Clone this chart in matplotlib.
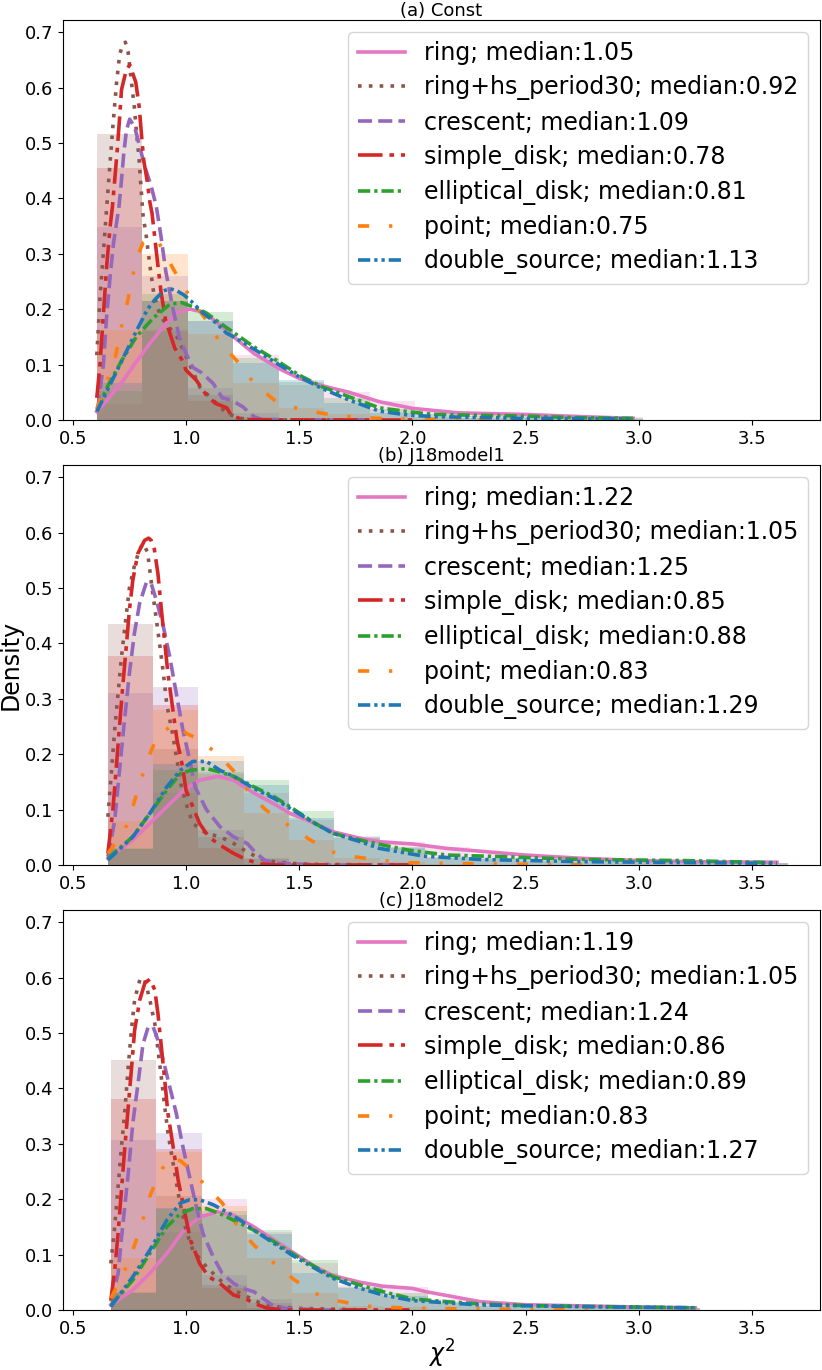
import numpy as np
import matplotlib
matplotlib.use("Agg")
import matplotlib.pyplot as plt

# legend order / draw order
models = ["ring", "ring+hs_period30", "crescent", "simple_disk",
          "elliptical_disk", "point", "double_source"]
colors = ["#e377c2", "#8c564b", "#9467bd", "#d62728", "#2ca02c", "#ff7f0e", "#1f77b4"]
styles = ["-", (0, (1.0, 2.0)), (0, (3.9, 1.7)), (0, (6.8, 1.9, 1.3, 1.9)),
          (0, (3.4, 1.1, 0.9, 1.1)), (0, (3.1, 5.5, 0.9, 5.5)), (0, (3.4, 1.1, 0.9, 1.1, 0.9, 1.1))]

titles = ["(a) Const", "(b) J18model1", "(c) J18model2"]
medians_a = [1.05, 0.92, 1.09, 0.78, 0.81, 0.75, 1.13]
medians_b = [1.22, 1.05, 1.25, 0.85, 0.88, 0.83, 1.29]
medians_c = [1.19, 1.05, 1.24, 0.86, 0.89, 0.83, 1.27]

# histogram bins: first edge, bin width
bins_a = (0.606, 0.201)
bins_b = (0.654, 0.2003)
bins_c = (0.668, 0.2003)

# ---- panel (a) Const: histogram heights (density) ----
hist_a_ring = [0.029, 0.165, 0.178, 0.118, 0.064, 0.05, 0.035, 0.015, 0.01, 0.01, 0.005, 0.005]
hist_a_hs = [0.517, 0.16, 0.045, 0.006, 0, 0, 0, 0, 0, 0, 0, 0]
hist_a_cres = [0.349, 0.26, 0.058, 0.012, 0, 0, 0, 0, 0, 0, 0, 0]
hist_a_disk = [0.455, 0.215, 0.035, 0.002, 0, 0, 0, 0, 0, 0, 0, 0]
hist_a_ell = [0.053, 0.227, 0.195, 0.112, 0.068, 0.04, 0.02, 0.01, 0.007, 0.005, 0.003, 0.003]
hist_a_point = [0.162, 0.30, 0.155, 0.066, 0.022, 0.01, 0.004, 0.001, 0, 0, 0, 0]
hist_a_dbl = [0.067, 0.215, 0.178, 0.102, 0.073, 0.03, 0.012, 0.006, 0.003, 0.003, 0.002, 0.002]

# ---- panel (a) Const: density curves (x, y) ----
kde_a_ring = [(0.606, 0.015), (0.66, 0.04), (0.72, 0.07), (0.78, 0.105), (0.84, 0.138),
              (0.899, 0.168), (0.958, 0.193), (1.016, 0.2), (1.075, 0.195), (1.134, 0.177),
              (1.193, 0.156), (1.3, 0.12), (1.41, 0.093), (1.5, 0.075), (1.6, 0.062),
              (1.72, 0.05), (1.854, 0.033), (2.0, 0.021), (2.2, 0.013), (2.5, 0.01),
              (2.75, 0.006), (2.975, 0.003)]
kde_a_hs = [(0.606, 0.117), (0.62, 0.22), (0.64, 0.33), (0.66, 0.44), (0.678, 0.535),
            (0.693, 0.608), (0.707, 0.66), (0.72, 0.677), (0.732, 0.682), (0.744, 0.665),
            (0.759, 0.61), (0.773, 0.56), (0.781, 0.52), (0.791, 0.48), (0.803, 0.41),
            (0.81, 0.37), (0.825, 0.33), (0.84, 0.28), (0.857, 0.23), (0.876, 0.2),
            (0.9, 0.18), (0.93, 0.165), (0.96, 0.15), (0.995, 0.12), (1.06, 0.06),
            (1.12, 0.036), (1.18, 0.012), (1.24, 0.003), (1.3, 0.0), (1.8, 0.0)]
kde_a_cres = [(0.61, 0.02), (0.635, 0.1), (0.65, 0.19), (0.665, 0.26), (0.68, 0.32),
              (0.704, 0.385), (0.715, 0.433), (0.725, 0.481), (0.737, 0.523), (0.751, 0.543),
              (0.773, 0.529), (0.796, 0.493), (0.818, 0.457), (0.847, 0.421), (0.869, 0.385),
              (0.89, 0.33), (0.91, 0.27), (0.94, 0.205), (0.97, 0.15), (1.0, 0.12),
              (1.03, 0.095), (1.07, 0.085), (1.12, 0.066), (1.16, 0.04), (1.2, 0.036),
              (1.25, 0.024), (1.3, 0.006), (1.34, 0.0), (1.8, 0.0)]
kde_a_disk = [(0.606, 0.04), (0.62, 0.1), (0.635, 0.19), (0.65, 0.28), (0.665, 0.35),
              (0.675, 0.385), (0.685, 0.433), (0.695, 0.481), (0.707, 0.547), (0.715, 0.596),
              (0.735, 0.63), (0.751, 0.641), (0.778, 0.61), (0.793, 0.566), (0.803, 0.517),
              (0.813, 0.469), (0.828, 0.433), (0.84, 0.394), (0.85, 0.373), (0.87, 0.3),
              (0.89, 0.23), (0.91, 0.18), (0.95, 0.13), (0.98, 0.11), (1.0, 0.09),
              (1.045, 0.072), (1.09, 0.045), (1.13, 0.03), (1.18, 0.022), (1.2, 0.008),
              (1.25, 0.001), (1.4, 0.0), (2.0, 0.0)]
kde_a_ell = [(0.606, 0.018), (0.66, 0.066), (0.72, 0.11), (0.78, 0.15), (0.855, 0.184),
             (0.929, 0.209), (0.98, 0.212), (1.046, 0.202), (1.09, 0.193), (1.15, 0.175),
             (1.21, 0.158), (1.3, 0.132), (1.41, 0.105), (1.5, 0.081), (1.6, 0.06),
             (1.72, 0.042), (1.854, 0.022), (2.0, 0.014), (2.1, 0.01), (2.5, 0.007),
             (2.75, 0.004), (2.975, 0.003)]
kde_a_point = [(0.606, 0.02), (0.66, 0.08), (0.69, 0.117), (0.71, 0.16), (0.74, 0.21),
               (0.76, 0.25), (0.78, 0.29), (0.81, 0.32), (0.85, 0.33), (0.88, 0.32),
               (0.92, 0.29), (0.975, 0.25), (1.045, 0.205), (1.1, 0.175), (1.15, 0.14),
               (1.24, 0.1), (1.3, 0.066), (1.39, 0.036), (1.46, 0.024), (1.6, 0.012),
               (1.73, 0.006), (1.85, 0.003), (2.1, 0.001), (2.5, 0.0)]
kde_a_dbl = [(0.606, 0.015), (0.66, 0.06), (0.72, 0.11), (0.78, 0.16), (0.83, 0.2),
             (0.862, 0.217), (0.9, 0.233), (0.93, 0.237), (0.96, 0.233), (0.99, 0.226),
             (1.024, 0.214), (1.075, 0.193), (1.134, 0.175), (1.178, 0.157), (1.21, 0.15),
             (1.3, 0.128), (1.41, 0.1), (1.5, 0.078), (1.6, 0.057), (1.72, 0.036),
             (1.854, 0.016), (1.98, 0.009), (2.1, 0.006), (2.5, 0.003), (2.975, 0.002)]

# ---- panel (b) J18model1 ----
hist_b_ring = [0.028, 0.13, 0.165, 0.13, 0.081, 0.052, 0.042, 0.032, 0.02, 0.014, 0.01, 0.008, 0.006, 0.005, 0.004]
hist_b_hs = [0.435, 0.209, 0.05, 0.01, 0.002, 0, 0, 0, 0, 0, 0, 0, 0, 0, 0]
hist_b_cres = [0.31, 0.322, 0.063, 0.012, 0, 0, 0, 0, 0, 0, 0, 0, 0, 0, 0]
hist_b_disk = [0.377, 0.288, 0.03, 0.002, 0, 0, 0, 0, 0, 0, 0, 0, 0, 0, 0]
hist_b_ell = [0.03, 0.171, 0.168, 0.153, 0.098, 0.048, 0.032, 0.015, 0.012, 0.01, 0.008, 0.006, 0.005, 0.004, 0.003]
hist_b_point = [0.08, 0.28, 0.197, 0.093, 0.045, 0.012, 0.006, 0.002, 0, 0, 0, 0, 0, 0, 0]
hist_b_dbl = [0.028, 0.183, 0.187, 0.145, 0.085, 0.05, 0.03, 0.012, 0.01, 0.007, 0.006, 0.005, 0.004, 0.003, 0.003]

kde_b_ring = [(0.655, 0.012), (0.765, 0.045), (0.84, 0.075), (0.915, 0.105), (0.99, 0.135),
              (1.06, 0.153), (1.14, 0.16), (1.21, 0.153), (1.3, 0.13), (1.39, 0.11),
              (1.46, 0.093), (1.57, 0.075), (1.65, 0.06), (1.77, 0.048), (1.854, 0.042),
              (2.0, 0.038), (2.15, 0.03), (2.5, 0.018), (2.75, 0.012), (3.0, 0.008),
              (3.25, 0.006), (3.61, 0.005)]
kde_b_hs = [(0.655, 0.087), (0.67, 0.165), (0.685, 0.244), (0.70, 0.31), (0.715, 0.376),
            (0.73, 0.43), (0.75, 0.5), (0.772, 0.54), (0.795, 0.57), (0.81, 0.58),
            (0.83, 0.565), (0.85, 0.5), (0.87, 0.44), (0.885, 0.394), (0.9, 0.346),
            (0.915, 0.29), (0.94, 0.238), (0.96, 0.19), (0.98, 0.141), (1.005, 0.105),
            (1.03, 0.075), (1.09, 0.057), (1.15, 0.051), (1.21, 0.039), (1.28, 0.021),
            (1.35, 0.008), (1.46, 0.003), (1.58, 0.001), (2.0, 0.0)]
kde_b_cres = [(0.655, 0.015), (0.685, 0.08), (0.705, 0.165), (0.727, 0.256), (0.75, 0.346),
              (0.772, 0.418), (0.795, 0.472), (0.825, 0.51), (0.846, 0.508), (0.869, 0.478),
              (0.9, 0.43), (0.928, 0.376), (0.957, 0.31), (0.986, 0.244), (1.016, 0.19),
              (1.04, 0.141), (1.09, 0.1), (1.15, 0.069), (1.21, 0.051), (1.27, 0.039),
              (1.31, 0.021), (1.35, 0.008), (1.41, 0.003), (1.6, 0.0), (2.0, 0.0)]
kde_b_disk = [(0.655, 0.021), (0.677, 0.1), (0.69, 0.165), (0.705, 0.244), (0.72, 0.32),
              (0.736, 0.394), (0.75, 0.46), (0.765, 0.514), (0.787, 0.562), (0.817, 0.586),
              (0.835, 0.59), (0.846, 0.586), (0.86, 0.57), (0.876, 0.526), (0.89, 0.466),
              (0.905, 0.406), (0.92, 0.346), (0.94, 0.286), (0.96, 0.226), (0.985, 0.177),
              (1.0, 0.135), (1.03, 0.105), (1.06, 0.075), (1.1, 0.051), (1.15, 0.036),
              (1.21, 0.021), (1.27, 0.009), (1.33, 0.002), (1.4, 0.0), (2.0, 0.0)]
kde_b_ell = [(0.655, 0.012), (0.765, 0.051), (0.84, 0.093), (0.915, 0.135), (0.975, 0.165),
             (1.02, 0.171), (1.09, 0.174), (1.15, 0.168), (1.21, 0.16), (1.3, 0.141),
             (1.39, 0.123), (1.46, 0.105), (1.57, 0.075), (1.65, 0.057), (1.77, 0.045),
             (1.87, 0.036), (1.98, 0.027), (2.15, 0.018), (2.4, 0.015), (2.75, 0.01),
             (3.2, 0.008), (3.61, 0.004)]
kde_b_point = [(0.655, 0.021), (0.73, 0.063), (0.765, 0.105), (0.8, 0.153), (0.84, 0.2),
               (0.876, 0.235), (0.957, 0.256), (1.0, 0.238), (1.06, 0.226), (1.14, 0.2),
               (1.21, 0.17), (1.28, 0.13), (1.35, 0.1), (1.44, 0.075), (1.55, 0.045),
               (1.64, 0.024), (1.74, 0.015), (1.87, 0.008), (1.98, 0.004), (2.3, 0.002),
               (2.8, 0.0)]
kde_b_dbl = [(0.655, 0.009), (0.765, 0.051), (0.84, 0.093), (0.915, 0.141), (0.975, 0.171),
             (1.03, 0.187), (1.09, 0.187), (1.15, 0.171), (1.21, 0.16), (1.3, 0.138),
             (1.39, 0.12), (1.46, 0.102), (1.57, 0.075), (1.65, 0.057), (1.77, 0.042),
             (1.854, 0.03), (2.05, 0.016), (2.3, 0.01), (2.75, 0.006), (3.61, 0.003)]

# ---- panel (c) J18model2 ----
hist_c_ring = [0.03, 0.14, 0.2, 0.14, 0.085, 0.045, 0.041, 0.02, 0.01, 0.008, 0.006, 0.005, 0.004]
hist_c_hs = [0.452, 0.206, 0.045, 0.012, 0, 0, 0, 0, 0, 0, 0, 0, 0]
hist_c_cres = [0.307, 0.32, 0.064, 0.02, 0, 0, 0, 0, 0, 0, 0, 0, 0]
hist_c_disk = [0.38, 0.29, 0.04, 0.004, 0, 0, 0, 0, 0, 0, 0, 0, 0]
hist_c_ell = [0.032, 0.183, 0.178, 0.145, 0.09, 0.042, 0.03, 0.015, 0.01, 0.007, 0.005, 0.004, 0.003]
hist_c_point = [0.094, 0.285, 0.187, 0.094, 0.03, 0.008, 0.006, 0.002, 0, 0, 0, 0, 0]
hist_c_dbl = [0.031, 0.185, 0.171, 0.137, 0.066, 0.04, 0.025, 0.012, 0.008, 0.006, 0.005, 0.003, 0.003]

kde_c_ring = [(0.668, 0.009), (0.765, 0.036), (0.84, 0.066), (0.915, 0.102), (0.99, 0.144),
              (1.06, 0.168), (1.14, 0.177), (1.21, 0.171), (1.3, 0.15), (1.39, 0.126),
              (1.48, 0.102), (1.57, 0.078), (1.65, 0.062), (1.77, 0.05), (1.87, 0.043),
              (2.0, 0.039), (2.06, 0.033), (2.3, 0.015), (2.5, 0.0095), (3.0, 0.0054),
              (3.25, 0.0036)]
kde_c_hs = [(0.668, 0.084), (0.685, 0.15), (0.70, 0.223), (0.715, 0.295), (0.73, 0.36),
            (0.745, 0.44), (0.76, 0.51), (0.773, 0.56), (0.796, 0.596), (0.81, 0.6),
            (0.818, 0.596), (0.84, 0.56), (0.862, 0.517), (0.876, 0.47), (0.891, 0.42),
            (0.906, 0.367), (0.92, 0.32), (0.943, 0.265), (0.97, 0.2), (1.0, 0.144),
            (1.03, 0.108), (1.09, 0.078), (1.15, 0.054), (1.21, 0.036), (1.27, 0.024),
            (1.33, 0.012), (1.4, 0.006), (1.5, 0.003), (1.8, 0.0)]
kde_c_cres = [(0.668, 0.015), (0.70, 0.066), (0.72, 0.15), (0.745, 0.247), (0.765, 0.337),
              (0.79, 0.415), (0.81, 0.48), (0.833, 0.511), (0.855, 0.511), (0.876, 0.487),
              (0.9, 0.45), (0.928, 0.403), (0.957, 0.355), (0.986, 0.295), (1.016, 0.24),
              (1.045, 0.187), (1.075, 0.138), (1.12, 0.096), (1.16, 0.066), (1.21, 0.048),
              (1.25, 0.039), (1.3, 0.033), (1.34, 0.021), (1.38, 0.009), (1.44, 0.003),
              (1.6, 0.0), (1.8, 0.0)]
kde_c_disk = [(0.668, 0.018), (0.685, 0.072), (0.70, 0.138), (0.715, 0.217), (0.73, 0.295),
              (0.745, 0.367), (0.76, 0.44), (0.773, 0.505), (0.796, 0.56), (0.818, 0.59),
              (0.84, 0.597), (0.862, 0.578), (0.876, 0.535), (0.891, 0.475), (0.906, 0.415),
              (0.92, 0.355), (0.943, 0.295), (0.965, 0.235), (0.995, 0.175), (1.02, 0.126),
              (1.06, 0.084), (1.1, 0.06), (1.15, 0.048), (1.21, 0.027), (1.26, 0.021),
              (1.3, 0.012), (1.36, 0.003), (1.45, 0.0), (2.0, 0.0)]
kde_c_ell = [(0.668, 0.009), (0.765, 0.054), (0.84, 0.102), (0.915, 0.15), (0.975, 0.174),
             (1.03, 0.183), (1.09, 0.183), (1.15, 0.174), (1.21, 0.162), (1.3, 0.144),
             (1.39, 0.123), (1.48, 0.099), (1.57, 0.078), (1.65, 0.06), (1.77, 0.045),
             (1.87, 0.033), (2.0, 0.02), (2.15, 0.015), (2.3, 0.011), (2.5, 0.008),
             (2.85, 0.006), (3.25, 0.004)]
kde_c_point = [(0.668, 0.021), (0.73, 0.072), (0.765, 0.108), (0.8, 0.15), (0.84, 0.205),
               (0.87, 0.235), (0.915, 0.27), (0.94, 0.277), (0.98, 0.268), (1.02, 0.253),
               (1.09, 0.223), (1.16, 0.193), (1.23, 0.15), (1.3, 0.117), (1.39, 0.084),
               (1.48, 0.054), (1.57, 0.03), (1.65, 0.018), (1.79, 0.007), (2.0, 0.003),
               (2.5, 0.001), (2.8, 0.0)]
kde_c_dbl = [(0.668, 0.006), (0.765, 0.06), (0.84, 0.108), (0.915, 0.162), (0.975, 0.193),
             (1.016, 0.199), (1.06, 0.199), (1.12, 0.19), (1.18, 0.177), (1.24, 0.162),
             (1.3, 0.144), (1.39, 0.12), (1.48, 0.096), (1.57, 0.075), (1.65, 0.057),
             (1.77, 0.039), (1.87, 0.027), (2.0, 0.017), (2.3, 0.009), (2.75, 0.006),
             (3.25, 0.004)]

hists = [
    [hist_a_ring, hist_a_hs, hist_a_cres, hist_a_disk, hist_a_ell, hist_a_point, hist_a_dbl],
    [hist_b_ring, hist_b_hs, hist_b_cres, hist_b_disk, hist_b_ell, hist_b_point, hist_b_dbl],
    [hist_c_ring, hist_c_hs, hist_c_cres, hist_c_disk, hist_c_ell, hist_c_point, hist_c_dbl],
]
kdes = [
    [kde_a_ring, kde_a_hs, kde_a_cres, kde_a_disk, kde_a_ell, kde_a_point, kde_a_dbl],
    [kde_b_ring, kde_b_hs, kde_b_cres, kde_b_disk, kde_b_ell, kde_b_point, kde_b_dbl],
    [kde_c_ring, kde_c_hs, kde_c_cres, kde_c_disk, kde_c_ell, kde_c_point, kde_c_dbl],
]
bins = [bins_a, bins_b, bins_c]
medians = [medians_a, medians_b, medians_c]


def draw_panel(ax, k):
    lo, w = bins[k]
    for i in range(len(models)):
        h = np.array(hists[k][i])
        edges = lo + w * np.arange(len(h) + 1)
        ax.stairs(h, edges, fill=True, color=colors[i], alpha=0.2, lw=0)
    for i in range(len(models)):
        x, y = zip(*kdes[k][i])
        ax.plot(x, y, color=colors[i], ls=styles[i], lw=2.6,
                label=f"{models[i]}; median:{medians[k][i]:.2f}")
    ax.set_title(titles[k], fontsize=13, pad=3)
    ax.set_xlim(0.458, 3.798)
    ax.set_ylim(0, 0.722)
    ax.set_xticks(np.arange(0.5, 3.51, 0.5))
    ax.set_yticks(np.arange(0, 0.71, 0.1))
    ax.tick_params(labelsize=13)
    ax.legend(loc="upper right", fontsize=17, handlelength=2.0, labelspacing=0.43)


def main():
    fig = plt.figure(figsize=(8.22, 13.7), dpi=100)
    bottoms = [0.69343, 0.36861, 0.04380]
    axes = [fig.add_axes([0.0770, b, 0.9200, 0.29197]) for b in bottoms]
    for k, ax in enumerate(axes):
        draw_panel(ax, k)
    axes[1].set_ylabel("Density", fontsize=17, labelpad=2)
    axes[2].set_xlabel(r"$\chi^2$", fontsize=17, labelpad=0)
    fig.savefig("out.png", dpi=100)
    plt.close(fig)


if __name__ == "__main__":
    main()
